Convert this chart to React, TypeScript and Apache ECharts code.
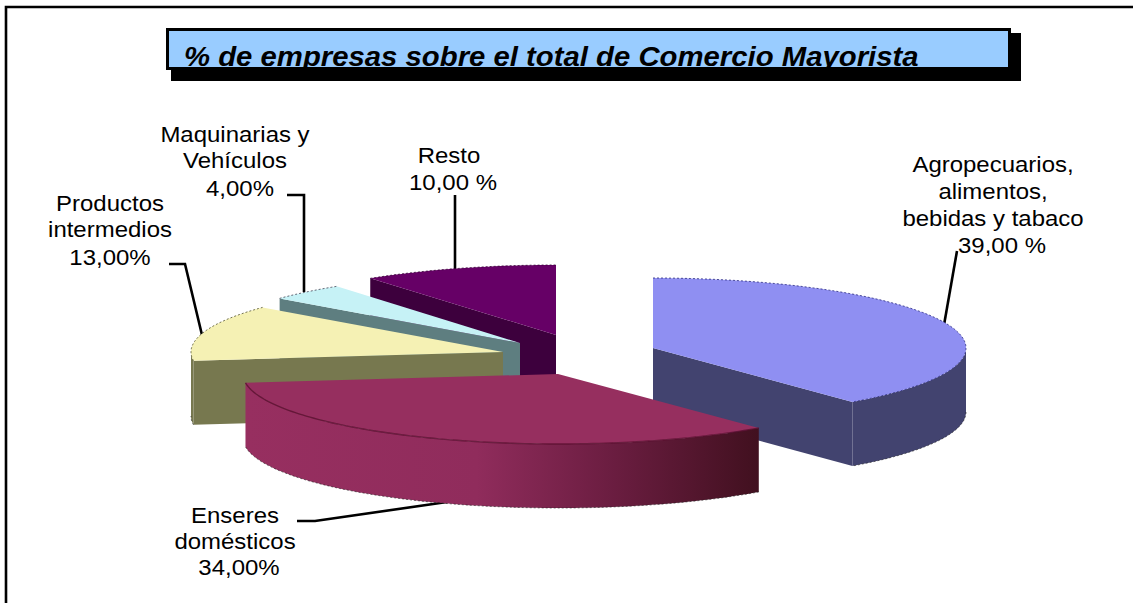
import React, { useEffect, useRef } from "react";
import * as echarts from "echarts";

const categories = ["Agropecuarios", "Enseres domésticos", "Productos intermedios", "Maquinarias y Vehículos", "Resto"];
const values = [39, 34, 13, 4, 10];
const labelLines = [
  ["Agropecuarios,", "alimentos,", "bebidas y tabaco", "39,00 %"],
  ["Enseres", "domésticos", "34,00%"],
  ["Productos", "intermedios", "13,00%"],
  ["Maquinarias y", "Vehículos", "4,00%"],
  ["Resto", "10,00 %"],
];
const titleText = "% de empresas sobre el total de Comercio Mayorista";

// layout
const W = 1133, H = 603;
const RY = 70, DEPTH = 64;
const radiiX = [313, 315, 312, 312, 316];
const apexes = [[653, 348], [558, 374], [503, 352], [520, 343], [556, 335]];
const paintOrder = [4, 3, 2, 0, 1];
const topColors = ["#8F8FF2", "#962F5F", "#F5F1B4", "#C6F2F6", "#660066"];
const wallColors = ["#42436F", "#962F5F", "#77784F", "#5E7E80", "#3D003D"];
const rimColors = ["#2A2A80", "#5A0F30", "#55552F", "#445", "#330033"];
const enseresWall = {
  type: "linear", x: 0, y: 0, x2: 1, y2: 0,
  colorStops: [
    { offset: 0, color: "#972F60" },
    { offset: 0.45, color: "#902C5C" },
    { offset: 0.72, color: "#6A1D40" },
    { offset: 1, color: "#41101F" },
  ],
};
const labelCenters = [
  [[993, 164], [993, 191], [993, 218], [1002, 245]],
  [[235, 515], [235, 541], [239, 567]],
  [[110, 203], [110, 229], [110, 257]],
  [[235, 134], [235, 160], [240, 188]],
  [[449, 155], [453, 182]],
];
const leaders = [
  [[957, 251], [944, 325]],
  [[297, 521], [315, 521], [447, 502]],
  [[169, 264], [185, 264], [202, 335]],
  [[287, 195], [304, 195], [304, 292]],
  [[455, 195], [455, 272]],
];

const FONT = "'Liberation Sans', Arial, sans-serif";

const total = values.reduce((a, b) => a + b, 0);
const starts: number[] = [];
values.reduce((acc, v, i) => { starts[i] = acc; return acc + v; }, 0);

function arcPoints(cx: number, cy: number, rx: number, a0: number, a1: number) {
  const pts: number[][] = [];
  const n = Math.max(2, Math.ceil(Math.abs(a1 - a0) / 0.02));
  for (let k = 0; k <= n; k++) {
    const t = a0 + ((a1 - a0) * k) / n;
    pts.push([cx + rx * Math.sin(t), cy - RY * Math.cos(t)]);
  }
  return pts;
}
const drop = (pts: number[][]) => pts.map((p) => [p[0], p[1] + DEPTH]);

function renderSlice(_params: any, api: any) {
  const idx = api.value(0);
  const v = api.value(1);
  const s = api.value(2);
  const a0 = (s / total) * Math.PI * 2;
  const a1 = ((s + v) / total) * Math.PI * 2;
  const [cx, cy] = apexes[idx];
  const rx = radiiX[idx];
  const wall = wallColors[idx];
  const children: any[] = [];
  const quad = (a: number) => {
    const p = [cx + rx * Math.sin(a), cy - RY * Math.cos(a)];
    return [[cx, cy], p, [p[0], p[1] + DEPTH], [cx, cy + DEPTH]];
  };
  if (Math.sin(a0) < -1e-6) {
    children.push({ type: "polygon", shape: { points: quad(a0) }, style: { fill: wall } });
  }
  if (Math.sin(a1) > 1e-6) {
    children.push({ type: "polygon", shape: { points: quad(a1) }, style: { fill: wall } });
  }
  // outer wall: only the front half of the rim faces the viewer
  const f0 = Math.max(a0, Math.PI / 2);
  const f1 = Math.min(a1, (Math.PI * 3) / 2);
  if (f1 > f0) {
    const arc = arcPoints(cx, cy, rx, f0, f1);
    const low = drop(arc);
    children.push({
      type: "polygon",
      shape: { points: [...arc, ...low.slice().reverse()] },
      style: { fill: idx === 1 ? enseresWall : wall },
    });
    children.push({
      type: "polyline",
      shape: { points: low },
      style: { stroke: "#222", lineWidth: 1, lineDash: [2, 2], fill: "none", opacity: 0.6 },
    });
  }
  // top face
  const rim = arcPoints(cx, cy, rx, a0, a1);
  children.push({
    type: "polygon",
    shape: { points: [[cx, cy], ...rim] },
    style: { fill: topColors[idx] },
  });
  // rim edge on the top face
  children.push({
    type: "polyline",
    shape: { points: rim },
    style: { stroke: rimColors[idx], lineWidth: idx === 1 ? 1.4 : 1, fill: "none", lineDash: idx === 1 ? null : [2, 2], opacity: 0.8 },
  });
  return { type: "group", children };
}

export default function App() {
  const ref = useRef<HTMLDivElement>(null);
  useEffect(() => {
    const chart = echarts.init(ref.current!, null, { renderer: "svg" });
    const texts: any[] = [];
    labelLines.forEach((lines, i) => {
      lines.forEach((t, j) => {
        texts.push({
          type: "text",
          x: labelCenters[i][j][0],
          y: labelCenters[i][j][1],
          scaleX: 1.09,
          style: { text: t, fill: "#000", font: `22px ${FONT}`, align: "center", verticalAlign: "middle" },
          z: 10,
        });
      });
    });
    const lines = leaders.map((pts) => ({
      type: "polyline",
      shape: { points: pts },
      style: { stroke: "#000", lineWidth: 2.6, fill: "none" },
      z: 1,
    }));
    chart.setOption({
      animation: false,
      backgroundColor: "#fff",
      graphic: {
        elements: [
          { type: "polyline", shape: { points: [[6, H], [6, 7], [W, 7]] }, style: { stroke: "#000", lineWidth: 2.6, fill: "none" }, z: 0 },
          { type: "rect", shape: { x: 171, y: 33, width: 850, height: 48 }, style: { fill: "#000" }, z: 0 },
          { type: "rect", shape: { x: 167.5, y: 29.5, width: 842, height: 39 }, style: { fill: "#99CCFF", stroke: "#000", lineWidth: 3 }, z: 1 },
          {
            type: "text", x: 184, y: 56, scaleX: 1.047,
            style: { text: titleText, fill: "#000", font: `italic bold 28px ${FONT}`, align: "left", verticalAlign: "middle" },
            z: 10,
          },
          ...lines,
          ...texts,
        ],
      },
      series: [
        {
          type: "custom",
          coordinateSystem: "none",
          silent: true,
          z: 5,
          renderItem: renderSlice,
          data: paintOrder.map((i) => ({ name: categories[i], value: [i, values[i], starts[i]] })),
        },
      ],
    });
    return () => chart.dispose();
  }, []);
  return <div ref={ref} style={{ position: "absolute", left: 0, top: 0, width: W, height: H }} />;
}
